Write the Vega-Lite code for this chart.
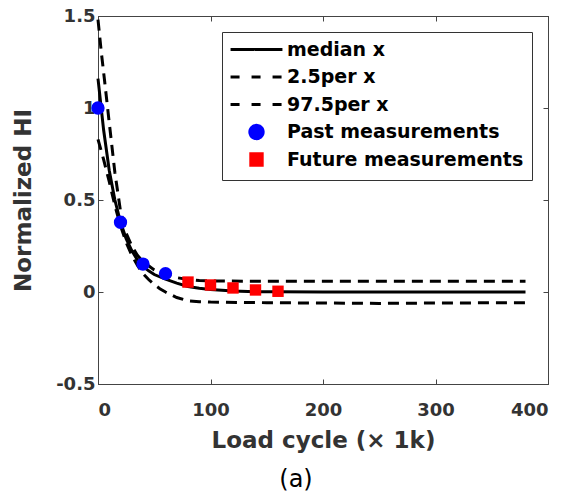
{
  "$schema": "https://vega.github.io/schema/vega-lite/v6.json",
  "width": 450,
  "height": 368,
  "autosize": "none",
  "padding": {"left": 98, "top": 16, "right": 23, "bottom": 113},
  "background": "white",
  "config": {
    "view": {"stroke": "#444444", "strokeWidth": 1},
    "font": "DejaVu Sans",
    "axis": {
      "labelFont": "DejaVu Sans", "labelFontWeight": "bold", "labelFontSize": 18, "labelColor": "#333333",
      "titleFont": "DejaVu Sans", "titleFontWeight": "bold", "titleFontSize": 23, "titleColor": "#333333",
      "domainColor": "#444444", "tickColor": "#444444", "grid": false, "tickSize": -5, "labelPadding": 22
    },
    "legend": {
      "labelFont": "DejaVu Sans", "labelFontWeight": "bold", "labelFontSize": 19, "labelColor": "#000000", "labelLimit": 400,
      "strokeColor": "#333333", "padding": 8, "rowPadding": 0.5, "gridAlign": "all", "labelOffset": 21, "symbolOffset": 17, "symbolStrokeWidth": 3
    }
  },
  "title": {"text": "(a)", "orient": "bottom", "font": "DejaVu Sans", "fontWeight": "normal", "fontSize": 24, "color": "#000000", "dx": -27, "offset": 16},
  "datasets": {
    "curves": [
      {"x": 0, "y": 1.16, "series": "median x"},
      {"x": 5, "y": 0.88, "series": "median x"},
      {"x": 10, "y": 0.66, "series": "median x"},
      {"x": 15, "y": 0.5, "series": "median x"},
      {"x": 20, "y": 0.38, "series": "median x"},
      {"x": 25, "y": 0.29, "series": "median x"},
      {"x": 30, "y": 0.225, "series": "median x"},
      {"x": 35, "y": 0.175, "series": "median x"},
      {"x": 40, "y": 0.14, "series": "median x"},
      {"x": 45, "y": 0.115, "series": "median x"},
      {"x": 50, "y": 0.095, "series": "median x"},
      {"x": 60, "y": 0.07, "series": "median x"},
      {"x": 70, "y": 0.048, "series": "median x"},
      {"x": 80, "y": 0.03, "series": "median x"},
      {"x": 90, "y": 0.02, "series": "median x"},
      {"x": 100, "y": 0.013, "series": "median x"},
      {"x": 120, "y": 0.006, "series": "median x"},
      {"x": 140, "y": 0.002, "series": "median x"},
      {"x": 160, "y": 0.001, "series": "median x"},
      {"x": 200, "y": 0, "series": "median x"},
      {"x": 300, "y": 0, "series": "median x"},
      {"x": 380, "y": 0, "series": "median x"},
      {"x": 0, "y": 0.83, "series": "2.5per x"},
      {"x": 5, "y": 0.72, "series": "2.5per x"},
      {"x": 10, "y": 0.6, "series": "2.5per x"},
      {"x": 15, "y": 0.47, "series": "2.5per x"},
      {"x": 20, "y": 0.36, "series": "2.5per x"},
      {"x": 25, "y": 0.27, "series": "2.5per x"},
      {"x": 30, "y": 0.2, "series": "2.5per x"},
      {"x": 35, "y": 0.145, "series": "2.5per x"},
      {"x": 40, "y": 0.1, "series": "2.5per x"},
      {"x": 45, "y": 0.068, "series": "2.5per x"},
      {"x": 50, "y": 0.04, "series": "2.5per x"},
      {"x": 55, "y": 0.018, "series": "2.5per x"},
      {"x": 60, "y": 0.0, "series": "2.5per x"},
      {"x": 70, "y": -0.03, "series": "2.5per x"},
      {"x": 80, "y": -0.048, "series": "2.5per x"},
      {"x": 90, "y": -0.053, "series": "2.5per x"},
      {"x": 100, "y": -0.055, "series": "2.5per x"},
      {"x": 150, "y": -0.058, "series": "2.5per x"},
      {"x": 200, "y": -0.06, "series": "2.5per x"},
      {"x": 250, "y": -0.062, "series": "2.5per x"},
      {"x": 300, "y": -0.06, "series": "2.5per x"},
      {"x": 380, "y": -0.058, "series": "2.5per x"},
      {"x": 0, "y": 1.48, "series": "97.5per x"},
      {"x": 3, "y": 1.3, "series": "97.5per x"},
      {"x": 6, "y": 1.14, "series": "97.5per x"},
      {"x": 10, "y": 0.92, "series": "97.5per x"},
      {"x": 15, "y": 0.65, "series": "97.5per x"},
      {"x": 20, "y": 0.44, "series": "97.5per x"},
      {"x": 25, "y": 0.32, "series": "97.5per x"},
      {"x": 30, "y": 0.25, "series": "97.5per x"},
      {"x": 35, "y": 0.2, "series": "97.5per x"},
      {"x": 40, "y": 0.165, "series": "97.5per x"},
      {"x": 50, "y": 0.12, "series": "97.5per x"},
      {"x": 60, "y": 0.095, "series": "97.5per x"},
      {"x": 70, "y": 0.078, "series": "97.5per x"},
      {"x": 80, "y": 0.068, "series": "97.5per x"},
      {"x": 90, "y": 0.062, "series": "97.5per x"},
      {"x": 100, "y": 0.06, "series": "97.5per x"},
      {"x": 150, "y": 0.058, "series": "97.5per x"},
      {"x": 200, "y": 0.058, "series": "97.5per x"},
      {"x": 300, "y": 0.058, "series": "97.5per x"},
      {"x": 380, "y": 0.058, "series": "97.5per x"}
    ],
    "meas": [
      {"x": 0, "y": 1.0, "series": "Past measurements"},
      {"x": 20, "y": 0.379, "series": "Past measurements"},
      {"x": 40, "y": 0.152, "series": "Past measurements"},
      {"x": 60, "y": 0.1, "series": "Past measurements"},
      {"x": 80, "y": 0.054, "series": "Future measurements"},
      {"x": 100, "y": 0.038, "series": "Future measurements"},
      {"x": 120, "y": 0.022, "series": "Future measurements"},
      {"x": 140, "y": 0.011, "series": "Future measurements"},
      {"x": 160, "y": 0.004, "series": "Future measurements"}
    ]
  },
  "resolve": {"axis": {"x": "independent", "y": "independent"}},
  "layer": [
    {
      "data": {"name": "curves"},
      "transform": [{"filter": "datum.series == 'median x'"}],
      "mark": {"type": "line", "color": "black", "strokeWidth": 3},
      "encoding": {
        "x": {"field": "x", "type": "quantitative", "scale": {"domain": [0, 400], "nice": false},
              "axis": {"values": [0, 100, 200, 300, 400], "title": "Load cycle (\u00d7 1k)", "titlePadding": 10}},
        "y": {"field": "y", "type": "quantitative", "scale": {"domain": [-0.5, 1.5], "nice": false, "zero": false},
              "axis": {"values": [-0.5, 0, 0.5, 1, 1.5], "labelExpr": "toString(datum.value)", "labelPadding": 8, "title": "Normalized HI", "titlePadding": 20}}
      }
    },
    {
      "data": {"name": "curves"},
      "transform": [{"filter": "datum.series != 'median x'"}],
      "mark": {"type": "line", "color": "black", "strokeWidth": 3, "strokeDash": [11, 7]},
      "encoding": {
        "x": {"field": "x", "type": "quantitative", "scale": {"domain": [0, 400], "nice": false},
              "axis": {"orient": "top", "values": [0, 100, 200, 300, 400], "labels": false, "title": null}},
        "y": {"field": "y", "type": "quantitative", "scale": {"domain": [-0.5, 1.5], "nice": false, "zero": false},
              "axis": {"orient": "right", "values": [-0.5, 0, 0.5, 1, 1.5], "labels": false, "title": null}},
        "detail": {"field": "series"}
      }
    },
    {
      "data": {"name": "meas"},
      "mark": {"type": "point", "filled": true, "opacity": 1, "strokeWidth": 0},
      "encoding": {
        "x": {"field": "x", "type": "quantitative", "axis": null},
        "y": {"field": "y", "type": "quantitative", "axis": null},
        "fill": {"field": "series", "type": "nominal",
                 "scale": {"domain": ["median x", "2.5per x", "97.5per x", "Past measurements", "Future measurements"], "range": ["black", "black", "black", "#0000ff", "#ff0000"]},
                 "legend": {"title": null, "orient": "top-right", "offset": 16}},
        "stroke": {"field": "series", "type": "nominal",
                 "scale": {"domain": ["median x", "2.5per x", "97.5per x", "Past measurements", "Future measurements"], "range": ["black", "black", "black", "#0000ff", "#ff0000"]},
                 "legend": {"title": null, "orient": "top-right", "offset": 16}},
        "shape": {"field": "series", "type": "nominal",
                 "scale": {"domain": ["median x", "2.5per x", "97.5per x", "Past measurements", "Future measurements"], "range": ["M-3.9,0H3.9", "M-3.9,0H3.9", "M-3.9,0H3.9", "circle", "square"]},
                 "legend": {"title": null, "orient": "top-right", "offset": 16}},
        "size": {"field": "series", "type": "nominal",
                 "scale": {"type": "ordinal", "domain": ["median x", "2.5per x", "97.5per x", "Past measurements", "Future measurements"], "range": [177, 177, 177, 177, 130]},
                 "legend": {"title": null, "orient": "top-right", "offset": 16}},
        "strokeDash": {"field": "series", "type": "nominal",
                 "scale": {"domain": ["median x", "2.5per x", "97.5per x", "Past measurements", "Future measurements"], "range": [[1, 0], [9, 12], [9, 12], [1, 0], [1, 0]]},
                 "legend": {"title": null, "orient": "top-right", "offset": 16}}
      }
    }
  ]
}
